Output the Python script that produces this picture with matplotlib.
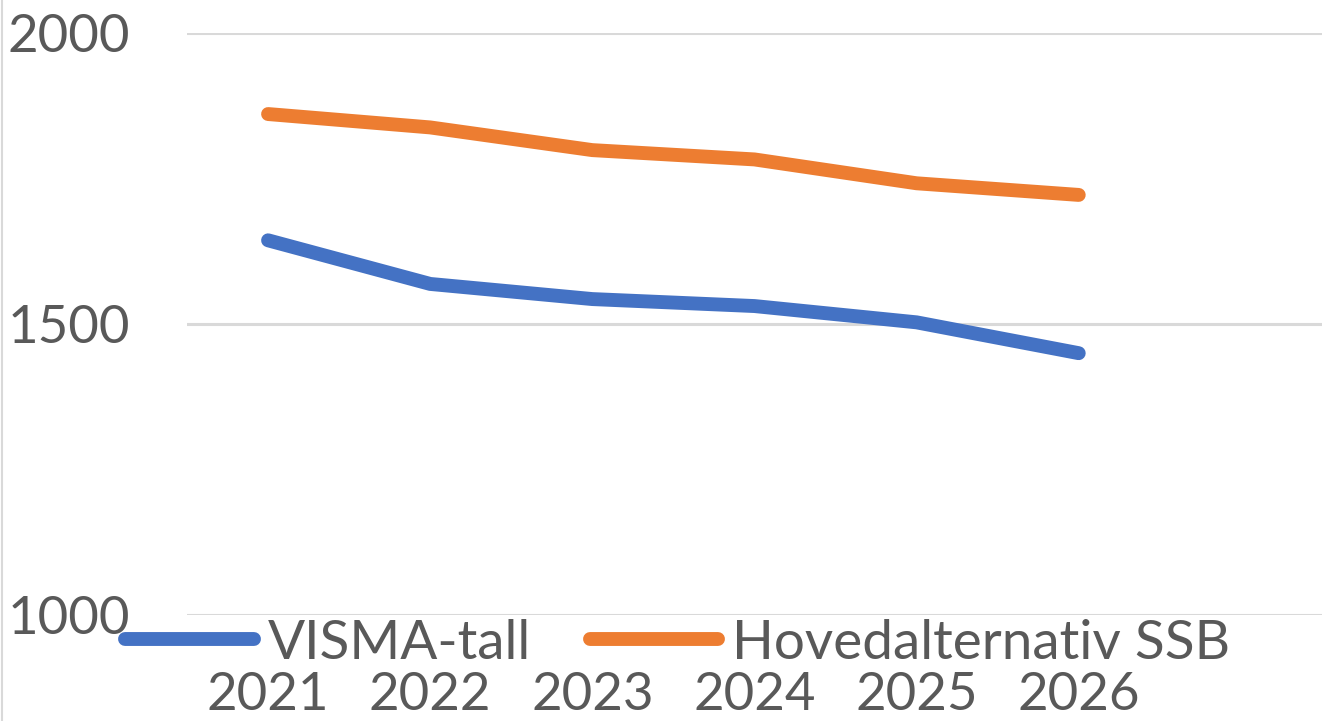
import matplotlib
matplotlib.use("Agg")
import matplotlib.pyplot as plt
from matplotlib.lines import Line2D

# chart data
years = ["2021", "2022", "2023", "2024", "2025", "2026"]
visma = [1644, 1569, 1543, 1531, 1503, 1450]
ssb = [1861, 1838, 1799, 1783, 1742, 1722]
y_ticks = [1000, 1500, 2000]

BLUE = "#4472C4"
ORANGE = "#ED7D31"
GRID = "#D9D9D9"
TEXT = "#595959"

plt.rcParams["font.family"] = ["Lato", "DejaVu Sans"]

fig = plt.figure(figsize=(13.29, 7.21), dpi=100)
ax = fig.add_axes([0.1407, 0.147, 0.854, 0.807])

x = list(range(len(years)))
ax.plot(x, visma, color=BLUE, linewidth=10, solid_capstyle="round", solid_joinstyle="round")
ax.plot(x, ssb, color=ORANGE, linewidth=10, solid_capstyle="round", solid_joinstyle="round")

# 7 category slots, the last one empty
ax.set_xlim(-0.5, 6.5)
ax.set_ylim(1000, 2000)
ax.set_xticks(x)
ax.set_xticklabels(years)
ax.set_yticks(y_ticks)
ax.set_yticklabels([str(v) for v in y_ticks])

ax.tick_params(axis="both", length=0, labelsize=38, colors=TEXT)
ax.tick_params(axis="x", pad=41)
ax.tick_params(axis="y", pad=41)

ax.grid(axis="y", color=GRID, linewidth=2.2)
ax.set_axisbelow(True)
for s in ax.spines.values():
    s.set_visible(False)

handles = [
    Line2D([0], [0], color=BLUE, linewidth=10, solid_capstyle="round"),
    Line2D([0], [0], color=ORANGE, linewidth=10, solid_capstyle="round"),
]
leg = fig.legend(handles, ["VISMA-tall", "Hovedalternativ SSB"], loc="center left",
                 bbox_to_anchor=(0.094, 0.108), ncol=2, frameon=False,
                 fontsize=39.5, handlelength=2.35, handletextpad=0.25, columnspacing=1.07,
                 borderaxespad=0, borderpad=0)
for t in leg.get_texts():
    t.set_color(TEXT)

# thin border on the left edge of the picture
fig.add_artist(Line2D([0.0015, 0.0015], [0, 1], color=GRID, linewidth=1.5,
                      transform=fig.transFigure))

fig.savefig("out.png", dpi=100)
